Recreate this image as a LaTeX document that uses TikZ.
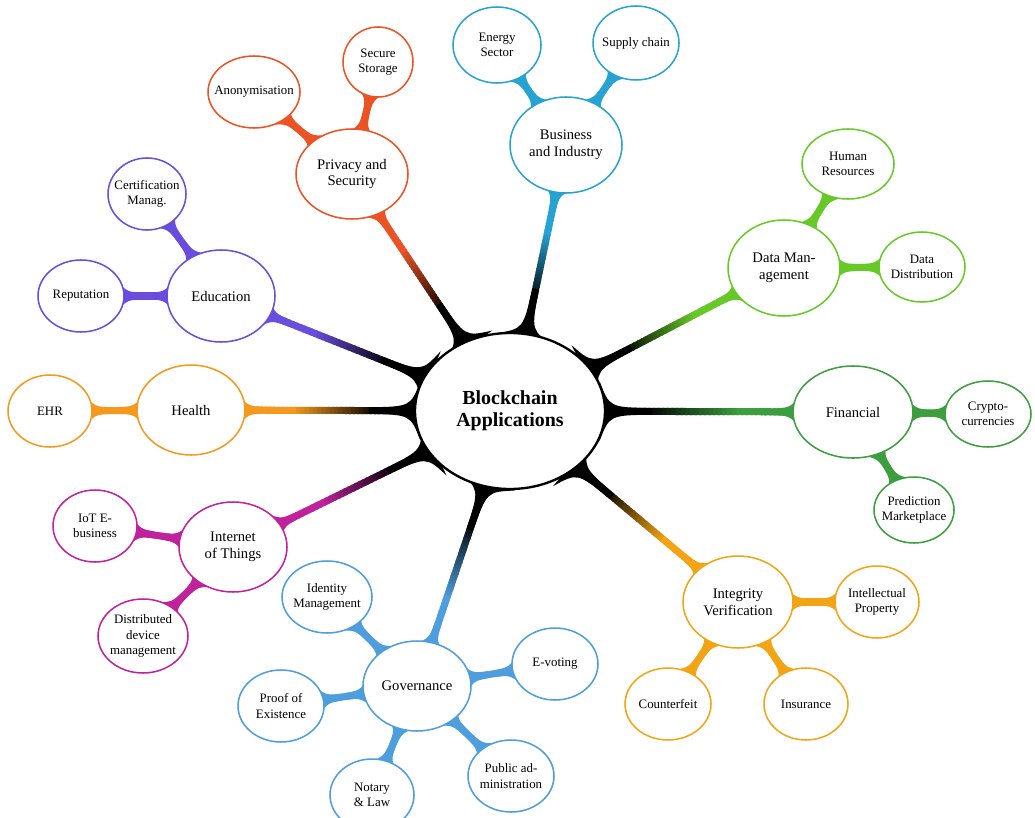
\documentclass[tikz,border=0pt]{standalone}
\usepackage{fontspec}
\setmainfont{Liberation Serif}
\usetikzlibrary{shapes.geometric,calc}

% branch colours
\definecolor{privC}{HTML}{EC5324}
\definecolor{busC}{HTML}{27A3D3}
\definecolor{datC}{HTML}{66C928}
\definecolor{finC}{HTML}{3C9E3E}
\definecolor{intC}{HTML}{F3A414}
\definecolor{govC}{HTML}{4E9DDC}
\definecolor{iotC}{HTML}{C0229C}
\definecolor{eduC}{HTML}{6A4DDD}
\definecolor{heaC}{HTML}{F5991E}

\pgfdeclarelayer{links}
\pgfsetlayers{links,main}

% concave foot of a branch at border point #1, pointing to #2
\newcommand{\flare}[4]{($(#1)!-0.2cm!(#2)!#3!90:(#2)$)
  .. controls ($(#1)!0.1cm!(#2)!0.12cm!90:(#2)$) .. ($(#1)!#4!(#2)!0.1cm!90:(#2)$)
  -- ($(#1)!#4!(#2)!0.1cm!-90:(#2)$)
  .. controls ($(#1)!0.1cm!(#2)!0.12cm!-90:(#2)$) .. ($(#1)!-0.2cm!(#2)!#3!-90:(#2)$) -- cycle}

% centre -> topic, black fading into the topic colour
\newcommand{\mainlink}[2]{%
  \path (blk) -- (#1) coordinate[pos=0] (s) coordinate[pos=1] (e);
  \foreach \k in {0,...,39}{
    \pgfmathsetmacro{\posA}{\k/40}
    \pgfmathsetmacro{\posB}{(\k+1.5)/40}
    \pgfmathtruncatemacro{\cmix}{max(0,min(100,(\k/40-0.2)*200))}
    \draw[line width=6pt, color=#2!\cmix!black] ($(s)!\posA!(e)$) -- ($(s)!\posB!(e)$);
  }
  \fill[fill=black] \flare{s}{e}{0.9cm}{1.35cm};
  \fill[fill=#2] \flare{e}{s}{0.42cm}{0.6cm};
}

% topic -> sub topic
\newcommand{\sublink}[3]{%
  \path (#1) -- (#2) coordinate[pos=0] (s) coordinate[pos=1] (e);
  \draw[line width=6pt, draw=#3] (s) -- (e);
  \fill[fill=#3] \flare{s}{e}{0.4cm}{0.55cm};
  \fill[fill=#3] \flare{e}{s}{0.4cm}{0.55cm};
}

\begin{document}
\begin{tikzpicture}[
    x=0.03cm,y=-0.03cm,
    bub/.style 2 args={ellipse, draw, fill=white, line width=1.3pt, inner sep=0pt,
      minimum width=#1*0.06cm, minimum height=#2*0.06cm},
    big/.style={align=center, font=\fontsize{12.5}{14.5}\selectfont},
    small/.style={align=center, font=\fontsize{11}{13}\selectfont}
  ]
  \useasboundingbox (0,0) rectangle (1035,818);

  % =========================
  % Centre
  % =========================
  \node[bub={95}{78}, draw=black, line width=2pt,
    label={[align=center, font=\fontsize{17}{19}\selectfont\bfseries]center:Blockchain\\Applications}]
    (blk) at (510,411) {};

  % =========================
  % Topics
  % =========================
  \node[bub={56}{45}, draw=privC, label={[big]center:Privacy and\\Security}] (priv) at (352,174) {};
  \node[bub={56}{48}, draw=busC, label={[big]center:Business\\and Industry}] (bus) at (566,145) {};
  \node[bub={56}{48}, draw=datC, label={[big]center:Data Man-\\agement}] (dat) at (784,268) {};
  \node[bub={60}{46}, draw=finC, label={[big]center:Financial}] (fin) at (853,412) {};
  \node[bub={55}{46}, draw=intC, label={[big]center:Integrity\\Verification}] (integ) at (738,602) {};
  \node[bub={54}{45}, draw=govC, label={[big]center:Governance}] (gov) at (417,686) {};
  \node[bub={54}{45}, draw=iotC, label={[big]center:Internet\\of Things}] (iot) at (233,547) {};
  \node[bub={54}{46}, draw=eduC, label={[big]center:Education}] (edu) at (221,296) {};
  \node[bub={54}{45}, draw=heaC, label={[big]center:Health}] (hea) at (191,410) {};

  % =========================
  % Sub topics
  % =========================
  \node[bub={46}{36}, draw=privC, label={[small]center:Anonymisation}] (anon) at (254,92) {};
  \node[bub={35}{35}, draw=privC, label={[small]center:Secure\\Storage}] (stor) at (378,62) {};
  \node[bub={44}{38}, draw=busC, label={[small]center:Energy\\Sector}] (ener) at (497,45) {};
  \node[bub={43}{37}, draw=busC, label={[small]center:Supply chain}] (supp) at (636,43) {};
  \node[bub={46}{35}, draw=datC, label={[small]center:Human\\Resources}] (hum) at (848,164) {};
  \node[bub={43}{35}, draw=datC, label={[small]center:Data\\Distribution}] (ddis) at (922,267) {};
  \node[bub={43}{33}, draw=finC, label={[small]center:Crypto-\\currencies}] (cryp) at (988,414) {};
  \node[bub={40}{33}, draw=finC, label={[small]center:Prediction\\Marketplace}] (pred) at (914,510) {};
  \node[bub={42}{36}, draw=intC, label={[small]center:Intellectual\\Property}] (ip) at (877,602) {};
  \node[bub={43}{36}, draw=intC, label={[small]center:Counterfeit}] (coun) at (668,704) {};
  \node[bub={42}{36}, draw=intC, label={[small]center:Insurance}] (insu) at (806,704) {};
  \node[bub={45}{36}, draw=govC, label={[small]center:Identity\\Management}] (idm) at (327,597) {};
  \node[bub={43}{36}, draw=govC, label={[small]center:E-voting}] (evot) at (555,664) {};
  \node[bub={43}{36}, draw=govC, label={[small]center:Proof of\\Existence}] (poe) at (281,706) {};
  \node[bub={42}{36}, draw=govC, label={[small]center:Notary\\\& Law}] (nota) at (372,795) {};
  \node[bub={43}{36}, draw=govC, label={[small]center:Public ad-\\ministration}] (pubad) at (511,776) {};
  \node[bub={42}{36}, draw=iotC, label={[small]center:IoT E-\\business}] (iotb) at (95,526) {};
  \node[bub={45}{37}, draw=iotC, label={[small]center:Distributed\\device\\management}] (ddev) at (143,636) {};
  \node[bub={39}{36}, draw=eduC, label={[small]center:Certification\\Manag.}] (cert) at (147,194) {};
  \node[bub={43}{36}, draw=eduC, label={[small]center:Reputation}] (repu) at (81,296) {};
  \node[bub={42}{36}, draw=heaC, label={[small]center:EHR}] (ehr) at (50,411) {};

  % =========================
  % Branches (behind the bubbles)
  % =========================
  \begin{pgfonlayer}{links}
    \foreach \nd/\col in {priv/privC, bus/busC, dat/datC, fin/finC, integ/intC,
        gov/govC, iot/iotC, edu/eduC, hea/heaC}
      {\mainlink{\nd}{\col}}
    \foreach \ta/\tb/\col in {priv/anon/privC, priv/stor/privC, bus/ener/busC, bus/supp/busC,
        dat/hum/datC, dat/ddis/datC, fin/cryp/finC, fin/pred/finC,
        integ/ip/intC, integ/coun/intC, integ/insu/intC,
        gov/idm/govC, gov/evot/govC, gov/poe/govC, gov/nota/govC, gov/pubad/govC,
        iot/iotb/iotC, iot/ddev/iotC, edu/cert/eduC, edu/repu/eduC, hea/ehr/heaC}
      {\sublink{\ta}{\tb}{\col}}
  \end{pgfonlayer}

\end{tikzpicture}
\end{document}
